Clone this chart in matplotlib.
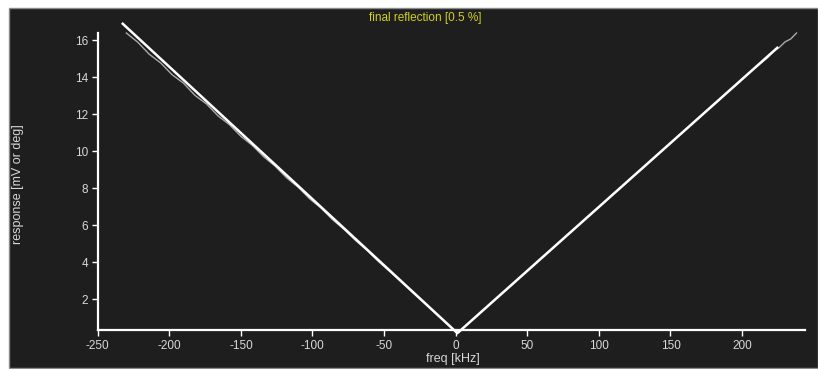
import matplotlib
matplotlib.use("Agg")
import matplotlib.pyplot as plt
from matplotlib.patches import Rectangle

plt.rcParams['font.family'] = ['Liberation Sans', 'DejaVu Sans']
plt.rcParams['axes.unicode_minus'] = False

# theoretical V response (white)
fit_freq = [-232.5, 1.2, 224.6]
fit_resp = [16.90, 0.16, 15.60]

# measured response (grey, noisy)
meas_freq = [-230, -222, -214, -206, -198, -190, -182, -174, -166, -158, -150,
             -142, -134, -126, -118, -110, -102, -94, -86, -78, -70, -62, -54,
             -46, -38, -30, -22, -14, -6, 0, 2,
             4, 12, 20, 28, 36, 44, 52, 60, 68, 76, 84, 92, 100, 108, 116, 124,
             132, 140, 148, 156, 164, 172, 180, 188, 196, 204, 212, 218, 222,
             226, 230, 234, 238]
meas_resp = [16.40, 15.90, 15.25, 14.78, 14.14, 13.68, 13.02, 12.56, 11.92,
             11.44, 10.81, 10.32, 9.70, 9.19, 8.56, 8.06, 7.43, 6.93, 6.30,
             5.78, 5.18, 4.65, 4.04, 3.50, 2.93, 2.36, 1.80, 1.23, 0.66, 0.25,
             0.20,
             0.35, 0.90, 1.45, 2.02, 2.55, 3.12, 3.66, 4.24, 4.77, 5.35, 5.88,
             6.46, 6.98, 7.56, 8.08, 8.66, 9.18, 9.77, 10.29, 10.87, 11.40,
             11.98, 12.50, 13.08, 13.60, 14.19, 14.70, 15.08, 15.42, 15.62,
             15.92, 16.08, 16.40]

x_ticks = [-250, -200, -150, -100, -50, 0, 50, 100, 150, 200]
y_ticks = [2, 4, 6, 8, 10, 12, 14, 16]

W, H = 818, 369
fig = plt.figure(figsize=(W / 100, H / 100), dpi=100, facecolor='white')
bg = '#1e1e1e'
fig.patches.append(Rectangle((9 / W, 1 - 368 / H), (W - 9) / W, (368 - 8) / H,
                             transform=fig.transFigure, facecolor=bg,
                             edgecolor='#8a8a8a', linewidth=1.0, zorder=-10))

ax = fig.add_axes([97.7 / W, 1 - 330 / H, 707.4 / W, 297 / H])
ax.set_facecolor('none')
ax.set_xlim(-250, 244)
ax.set_ylim(0.33, 16.4)

ax.plot(meas_freq, meas_resp, color='#aaaaaa', lw=1.0, clip_on=False, zorder=2)
ax.plot(fit_freq, fit_resp, color='white', lw=1.8, clip_on=False, zorder=3)

for s in ['top', 'right']:
    ax.spines[s].set_visible(False)
for s in ['left', 'bottom']:
    ax.spines[s].set_color('white')
    ax.spines[s].set_linewidth(1.6)

ax.set_xticks(x_ticks)
ax.set_yticks(y_ticks)
ax.tick_params(colors='white', labelcolor='#d8d8d8', labelsize=8.5,
               length=4, width=1, direction='out')
ax.tick_params(axis='x', pad=3)
ax.tick_params(axis='y', pad=3)

fig.text(425 / W, 1 - 18 / H, 'final reflection [0.5 %]', color='#d2d21e',
         fontsize=8.5, ha='center', va='center')
fig.text(18 / W, 1 - 184 / H, 'response [mV or deg]', color='#d8d8d8',
         fontsize=9, ha='center', va='center', rotation=90)
fig.text(453 / W, 1 - 359 / H, 'freq [kHz]', color='#d8d8d8',
         fontsize=9, ha='center', va='center')

fig.savefig('out.png', dpi=100, facecolor='white')
